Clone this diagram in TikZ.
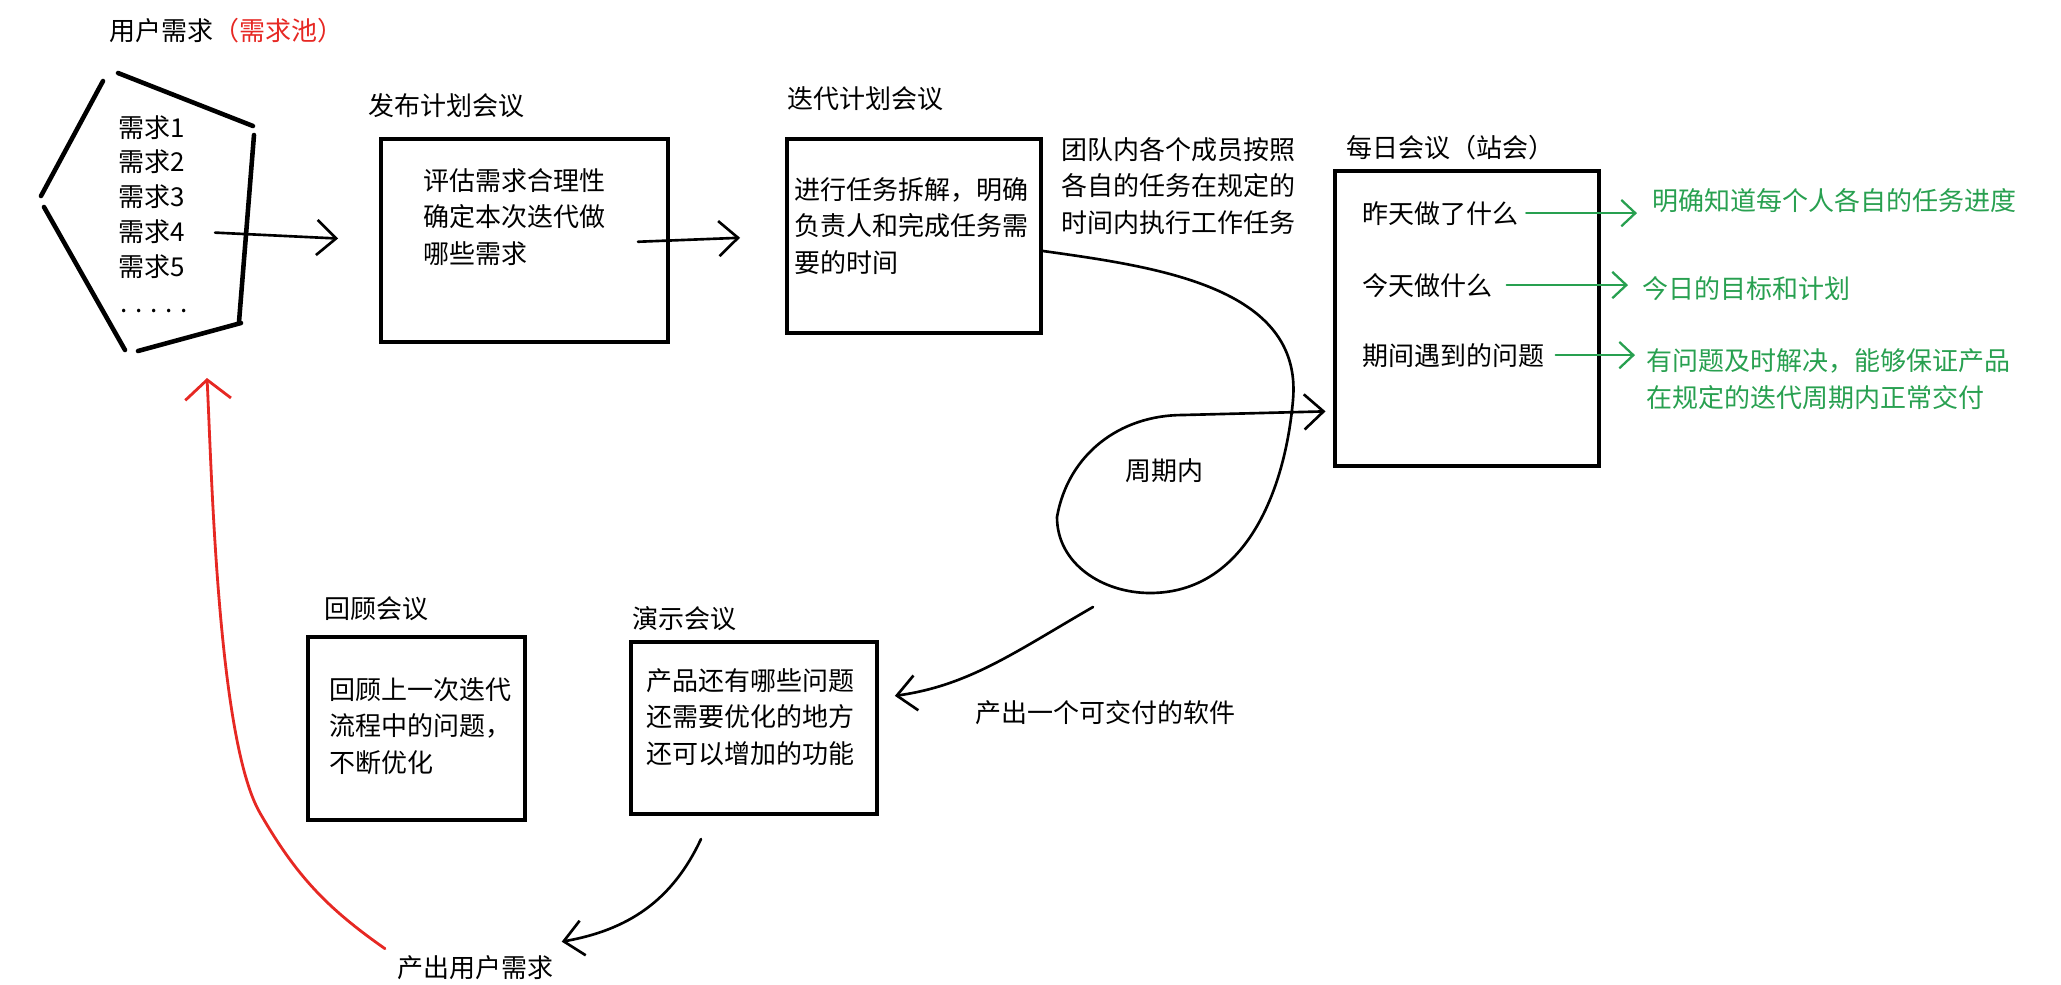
\documentclass[tikz,border=0pt]{standalone}
\usepackage{fontspec}
\setmainfont{Noto Sans CJK SC}
\definecolor{poolred}{RGB}{230,40,35}
\definecolor{notegreen}{RGB}{40,160,80}
\usetikzlibrary{positioning,arrows.meta,calc}

\begin{document}
\begin{tikzpicture}[x=0.02cm,y=-0.02cm,
    meeting/.style={rectangle,draw,line width=2.3pt,anchor=north west,inner sep=0pt},
    txt/.style={anchor=base west,align=left,inner sep=0pt,font=\fontsize{14.8}{20.5}\selectfont},
    note/.style={txt,text=notegreen},
    arr/.style={line width=1.5pt,line cap=round,-{Straight Barb[length=11pt,width=20pt]}},
    garr/.style={arr,notegreen,line width=1.3pt,-{Straight Barb[length=8pt,width=15pt]}}
]
    \useasboundingbox (0,0) rectangle (2061,984);

    % requirement pool
    \node[txt] (pool) at (109,40) {用户需求\textcolor{poolred}{（需求池）}};
    \draw[line width=2.6pt,line cap=round] (118,73) -- (253,126) (254,135) -- (239,322)
        (241,323) -- (138,351) (125,350) -- (44,207) (41,196) -- (103,81);
    \foreach \i/\y in {1/137,2/171,3/206,4/241,5/276}
        \node[txt] (r\i) at (118,\y) {需求\i};
    \node[txt] (rdots) at (120,312) {. . . . .};

    % release planning
    \node[txt] (t1) at (368,115) {发布计划会议};
    \node[meeting,minimum width=5.74cm,minimum height=4.06cm] (b1) at (379,137) {};
    \node[txt] (d1) at (423,263) {评估需求合理性\\确定本次迭代做\\哪些需求};

    % iteration planning
    \node[txt] (t2) at (787,108) {迭代计划会议};
    \node[meeting,minimum width=5.08cm,minimum height=3.88cm] (b2) at (785,137) {};
    \node[txt] (d2) at (794,272) {进行任务拆解，明确\\负责人和完成任务需\\要的时间};
    \node[txt] (team) at (1061,232) {团队内各个成员按照\\各自的任务在规定的\\时间内执行工作任务};

    % daily standup
    \node[txt] (t3) at (1346,157) {每日会议（站会）};
    \node[meeting,minimum width=5.28cm,minimum height=5.9cm] (b3) at (1333,169) {};
    \node[txt] (i1) at (1362,223) {昨天做了什么};
    \node[txt] (i2) at (1362,295) {今天做什么};
    \node[txt] (i3) at (1362,365) {期间遇到的问题};
    \node[note] (gt1) at (1652,210) {明确知道每个人各自的任务进度};
    \node[note] (gt2) at (1642,298) {今日的目标和计划};
    \node[note] (gt3) at (1646,407) {有问题及时解决，能够保证产品\\在规定的迭代周期内正常交付};

    \node[txt] (cyc) at (1125,480) {周期内};
    \node[txt] (p1) at (975,722) {产出一个可交付的软件};

    % review + retro
    \node[txt] (t4) at (324,618) {回顾会议};
    \node[meeting,minimum width=4.34cm,minimum height=3.66cm] (b4) at (306,635) {};
    \node[txt] (d4) at (329,772) {回顾上一次迭代\\流程中的问题，\\不断优化};
    \node[txt] (t5) at (632,628) {演示会议};
    \node[meeting,minimum width=4.92cm,minimum height=3.44cm] (b5) at (629,640) {};
    \node[txt] (d5) at (646,763) {产品还有哪些问题\\还需要优化的地方\\还可以增加的功能};
    \node[txt] (p2) at (397,977) {产出用户需求};

    \coordinate (loopout) at (1093,607);
    \coordinate (poolbase) at (207,378);

    % flow
    \draw[arr,shorten <=0.6cm,shorten >=0.82cm] (r4.east) -- (b1.west);
    \draw[arr,shorten <=-0.64cm,shorten >=0.9cm] (b1.east) -- (b2.west);
    \draw[arr,shorten >=0.15cm] ([yshift=-0.3cm]b2.east) to[out=-8,in=85] (1293,400)
        to[out=-95,in=0] (1150,593) to[out=180,in=-90] (1057,517)
        to[out=80,in=180] (1183,415) -- ($(b3.north west)!0.81!(b3.south west)$);
    \draw[arr,shorten >=0.32cm] (loopout) to[out=-150,in=8] ($(b5.north east)!0.33!(b5.south east)$);
    \draw[arr] ([shift={(-53,23)}]b5.south) to[out=-115,in=10] ([shift={(8,-13)}]p2.north east);
    \draw[arr,poolred,line width=1.6pt,-{Straight Barb[length=11pt,width=26pt]}] ([shift={(-12,-6)}]p2.north west)
        to[out=145,in=-60] (260,813) to[out=120,in=-87,looseness=0.5] (poolbase);

    % standup notes
    \draw[garr,shorten <=0.15cm,shorten >=0.3cm] (i1.east) -- (i1.east -| gt1.west);
    \draw[garr,shorten <=0.28cm,shorten >=0.28cm] (i2.east) -- (i2.east -| gt2.west);
    \draw[garr,shorten <=0.22cm,shorten >=0.22cm] (i3.east) -- (i3.east -| gt3.west);
\end{tikzpicture}
\end{document}
